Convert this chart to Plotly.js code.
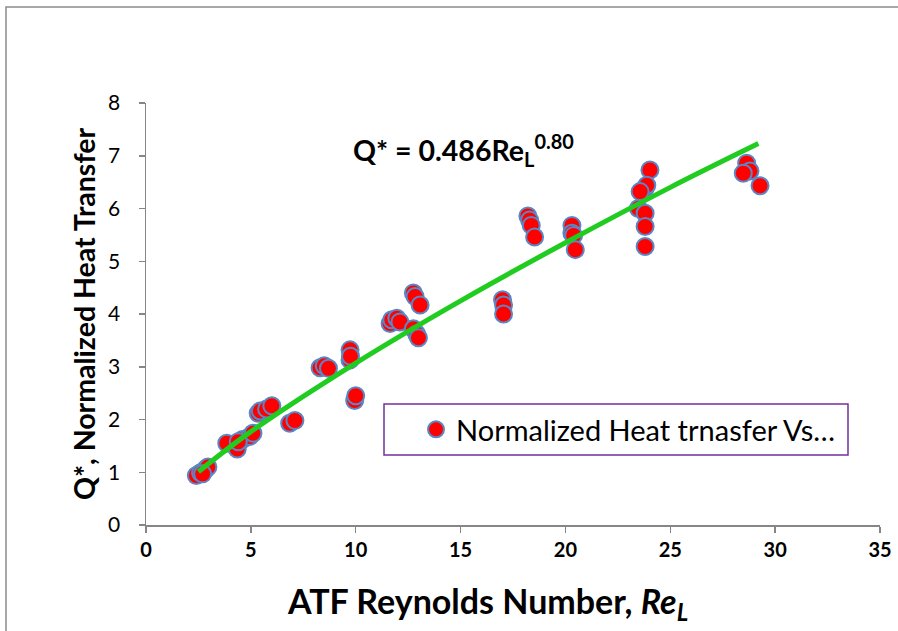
<!DOCTYPE html>
<html>
<head>
<meta charset="utf-8">
<script src="https://cdn.plot.ly/plotly-3.0.1.min.js"></script>
<style>html,body{margin:0;padding:0;background:#fff;}#chart{width:898px;height:631px;}</style>
</head>
<body>
<div id="chart"></div>
<script>
// Measured data: ATF Reynolds number vs normalized heat transfer
const reynolds = [
  2.40, 2.60, 2.85, 2.95, 2.70,
  3.85, 4.35, 4.60, 4.95, 5.10, 4.40,
  5.35, 5.45, 5.75, 6.00,
  6.85, 7.10,
  8.30, 8.50, 8.70,
  9.73, 9.73, 9.75,
  9.95, 10.00,
  11.64, 11.72, 11.96, 12.11,
  12.75, 12.83, 13.07,
  12.75, 12.91, 12.99,
  17.00, 17.05, 17.05,
  18.21, 18.29, 18.37, 18.53,
  20.31, 20.31, 20.39, 20.47,
  24.03, 23.80, 23.88, 23.56, 23.48, 23.80, 23.80, 23.80,
  28.64, 28.80, 28.48, 29.28
];
const heatTransfer = [
  0.94, 0.99, 1.06, 1.10, 0.97,
  1.55, 1.44, 1.62, 1.68, 1.74, 1.58,
  2.12, 2.16, 2.20, 2.26,
  1.93, 1.98,
  2.98, 3.02, 2.97,
  3.32, 3.13, 3.20,
  2.36, 2.45,
  3.82, 3.89, 3.92, 3.85,
  4.40, 4.33, 4.17,
  3.72, 3.62, 3.55,
  4.27, 4.17, 4.00,
  5.86, 5.78, 5.68, 5.46,
  5.68, 5.53, 5.49, 5.22,
  6.73, 6.38, 6.44, 6.32, 6.00, 5.91, 5.66, 5.28,
  6.86, 6.71, 6.67, 6.43
];
// Trendline Q* = 0.486 Re^0.80
const fitX = [2.5, 5, 10, 15, 20, 25, 29.2];
const fitY = [1.01, 1.77, 3.07, 4.25, 5.35, 6.40, 7.23];
const xTicks = [0, 5, 10, 15, 20, 25, 30, 35];
const yTicks = [0, 1, 2, 3, 4, 5, 6, 7, 8];
const seriesName = "Normalized Heat trnasfer Vs…";
const equationText = "Q* = 0.486Re<sub>L</sub><sup>0.80</sup>";
const xTitle = "ATF Reynolds Number, <i>Re<sub>L</sub></i>";
const yTitle = "Q*, Normalized Heat Transfer";

const font = "Lato, 'Open Sans', sans-serif";
const pw = 898 - 146 - 18;
const ph = 525 - 103;
const px = v => (v - 146) / pw;
const py = v => (525 - v) / ph;

const traces = [
  {
    x: reynolds, y: heatTransfer, mode: "markers", type: "scatter",
    name: seriesName,
    marker: {color: "#ff0000", size: 17, line: {color: "#5b87c5", width: 2}}
  },
  {
    x: fitX, y: fitY, mode: "lines", type: "scatter", line: {shape: "spline", color: "#1fcc1f", width: 5},
    showlegend: false, hoverinfo: "skip"
  }
];

const layout = {
  width: 898, height: 631,
  margin: {l: 146, r: 18, t: 103, b: 106},
  paper_bgcolor: "#ffffff", plot_bgcolor: "#ffffff",
  font: {family: font, color: "#000"},
  showlegend: true,
  legend: {
    x: px(416), y: py(429.5), xanchor: "left", yanchor: "middle",
    bgcolor: "rgba(0,0,0,0)", borderwidth: 0,
    font: {family: font, size: 29, color: "#000"},
    itemsizing: "trace"
  },
  xaxis: {
    range: [0, 35], tickvals: xTicks, ticktext: xTicks.map(String),
    showgrid: false, zeroline: false, showline: true, linecolor: "#868686", linewidth: 1.5,
    ticks: "outside", ticklen: 6, tickcolor: "#868686", tickwidth: 1.5,
    tickfont: {family: font, size: 20, color: "#000", weight: "bold"}
  },
  yaxis: {
    range: [0, 8], tickvals: yTicks, ticktext: yTicks.map(String),
    showgrid: false, zeroline: false, showline: true, linecolor: "#868686", linewidth: 1.5,
    ticks: "outside", ticklen: 6, tickcolor: "#868686", tickwidth: 1.5,
    ticklabelstandoff: 14,
    tickfont: {family: font, size: 21, color: "#000"},
    title: {text: yTitle, font: {family: font, size: 28.5, color: "#000", weight: "bold"}, standoff: 4}
  },
  annotations: [
    {
      x: px(351), y: py(150), xref: "paper", yref: "paper", xanchor: "left", yanchor: "middle",
      text: "<b>" + equationText + "</b>", showarrow: false,
      font: {family: font, size: 28.5, color: "#000"}
    },
    {
      x: px(487), y: py(603), xref: "paper", yref: "paper", xanchor: "center", yanchor: "middle",
      text: "<b>" + xTitle + "</b>", showarrow: false,
      font: {family: font, size: 34, color: "#000"}
    }
  ],
  shapes: [
    {
      type: "rect", xref: "paper", yref: "paper",
      x0: px(6), x1: px(910), y0: py(640), y1: py(7),
      line: {color: "#8c8c8c", width: 1.5}, fillcolor: "rgba(0,0,0,0)", layer: "below"
    },
    {
      type: "rect", xref: "paper", yref: "paper",
      x0: px(384), x1: px(848), y0: py(455), y1: py(404),
      line: {color: "#7030a0", width: 1.5}, fillcolor: "#ffffff", layer: "above"
    }
  ]
};

Plotly.newPlot("chart", traces, layout, {displayModeBar: false, staticPlot: true});
</script>
</body>
</html>
